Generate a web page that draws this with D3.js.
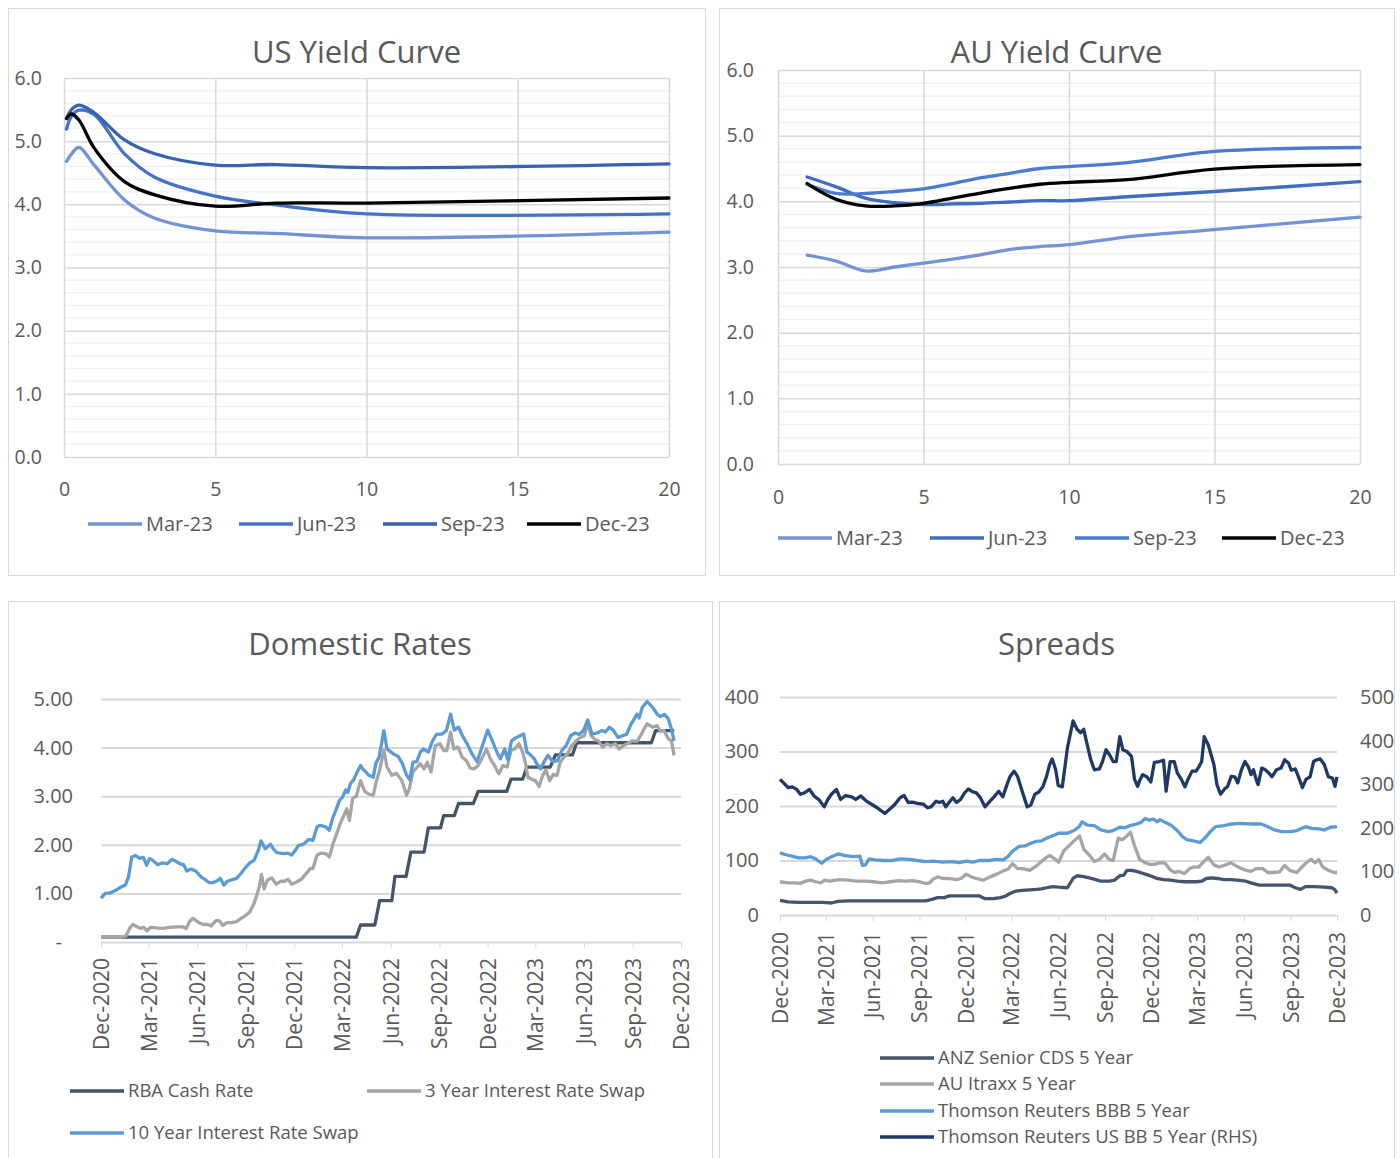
<!DOCTYPE html>
<html>
<head>
<meta charset="utf-8">
<script src="https://cdn.jsdelivr.net/npm/d3@7"></script>
<style>
  body { margin: 0; background: #fff; }
  svg { display: block; font-family: 'Open Sans', sans-serif; }
</style>
</head>
<body>
<svg id="chart" width="1400" height="1158"></svg>
<script>
// ---------- yield curves ----------
const usTenors = [0.083, 0.25, 0.5, 1, 2, 3, 5, 7, 10, 20];
const usMar23 = [4.68, 4.80, 4.90, 4.62, 4.07, 3.78, 3.58, 3.54, 3.47, 3.56];
const usJun23 = [5.19, 5.40, 5.49, 5.42, 4.80, 4.43, 4.13, 3.99, 3.85, 3.85];
const usSep23 = [5.36, 5.50, 5.57, 5.45, 5.02, 4.80, 4.62, 4.63, 4.58, 4.64];
const usDec23 = [5.36, 5.43, 5.33, 4.89, 4.36, 4.15, 3.97, 4.02, 4.02, 4.10];

const auTenors = [1, 2, 3, 4, 5, 6, 7, 8, 9, 10, 12, 15, 20];
const auMar23 = [3.18, 3.09, 2.94, 3.00, 3.06, 3.12, 3.19, 3.27, 3.31, 3.34, 3.46, 3.57, 3.76];
const auJun23 = [4.37, 4.22, 4.05, 3.98, 3.95, 3.96, 3.97, 3.99, 4.01, 4.01, 4.07, 4.15, 4.30];
const auSep23 = [4.26, 4.12, 4.12, 4.15, 4.19, 4.27, 4.36, 4.43, 4.50, 4.53, 4.59, 4.76, 4.82];
const auDec23 = [4.27, 4.03, 3.93, 3.93, 3.97, 4.05, 4.13, 4.20, 4.26, 4.29, 4.33, 4.49, 4.56];

const curveLabels = ['Mar-23', 'Jun-23', 'Sep-23', 'Dec-23'];

// ---------- domestic rates ----------
const quarterTicks = ['2020-12-01', '2021-03-01', '2021-06-01', '2021-09-01', '2021-12-01',
  '2022-03-01', '2022-06-01', '2022-09-01', '2022-12-01', '2023-03-01', '2023-06-01',
  '2023-09-01', '2023-12-01'];

const rbaCash = [
  ['2020-12-01', 0.10], ['2022-03-28', 0.10], ['2022-04-05', 0.35], ['2022-05-02', 0.35],
  ['2022-05-11', 0.85], ['2022-06-03', 0.85], ['2022-06-09', 1.35], ['2022-06-30', 1.35],
  ['2022-07-09', 1.85], ['2022-08-03', 1.85], ['2022-08-11', 2.35], ['2022-09-03', 2.35],
  ['2022-09-09', 2.60], ['2022-09-29', 2.60], ['2022-10-07', 2.85], ['2022-11-04', 2.85],
  ['2022-11-13', 3.10], ['2023-01-06', 3.10], ['2023-01-14', 3.35], ['2023-02-05', 3.35],
  ['2023-02-13', 3.60], ['2023-03-29', 3.60], ['2023-04-08', 3.85], ['2023-05-10', 3.85],
  ['2023-05-18', 4.10], ['2023-10-06', 4.10], ['2023-10-14', 4.35], ['2023-11-18', 4.35]
];

const swap3y = [
  ['2020-12-01', 0.10], ['2020-12-18', 0.10], ['2021-01-06', 0.10], ['2021-01-17', 0.12],
  ['2021-01-24', 0.28], ['2021-01-30', 0.36], ['2021-02-08', 0.31], ['2021-02-14', 0.28],
  ['2021-02-20', 0.30], ['2021-02-26', 0.23], ['2021-03-04', 0.30], ['2021-03-15', 0.29],
  ['2021-03-27', 0.28], ['2021-04-10', 0.30], ['2021-04-23', 0.31], ['2021-05-05', 0.31],
  ['2021-05-11', 0.28], ['2021-05-17', 0.42], ['2021-05-24', 0.49], ['2021-06-03', 0.40],
  ['2021-06-12', 0.36], ['2021-06-21', 0.36], ['2021-06-27', 0.33], ['2021-07-06', 0.44],
  ['2021-07-12', 0.44], ['2021-07-19', 0.34], ['2021-07-27', 0.40], ['2021-08-05', 0.40],
  ['2021-08-14', 0.42], ['2021-08-23', 0.49], ['2021-08-29', 0.53], ['2021-09-08', 0.62],
  ['2021-09-16', 0.79], ['2021-09-21', 0.96], ['2021-09-26', 1.14], ['2021-09-30', 1.39],
  ['2021-10-05', 1.09], ['2021-10-11', 1.27], ['2021-10-19', 1.32], ['2021-10-28', 1.19],
  ['2021-11-05', 1.25], ['2021-11-13', 1.25], ['2021-11-19', 1.29], ['2021-11-26', 1.19],
  ['2021-12-06', 1.24], ['2021-12-14', 1.29], ['2021-12-22', 1.39], ['2021-12-31', 1.51],
  ['2022-01-05', 1.51], ['2022-01-13', 1.79], ['2022-01-21', 1.83], ['2022-01-29', 1.82],
  ['2022-02-05', 1.75], ['2022-02-12', 2.02], ['2022-02-19', 2.23], ['2022-02-26', 2.45],
  ['2022-03-04', 2.59], ['2022-03-10', 2.74], ['2022-03-15', 2.50], ['2022-03-21', 2.95],
  ['2022-03-28', 3.00], ['2022-04-05', 3.32], ['2022-04-13', 3.10], ['2022-04-21', 3.04],
  ['2022-04-29', 3.02], ['2022-05-05', 3.32], ['2022-05-11', 3.53], ['2022-05-19', 3.95],
  ['2022-05-25', 3.60], ['2022-06-03', 3.43], ['2022-06-12', 3.47], ['2022-06-22', 3.32],
  ['2022-07-01', 3.02], ['2022-07-06', 3.15], ['2022-07-13', 3.50], ['2022-07-21', 3.60],
  ['2022-07-27', 3.67], ['2022-08-03', 3.56], ['2022-08-09', 3.70], ['2022-08-16', 3.50],
  ['2022-08-24', 4.04], ['2022-09-02', 4.08], ['2022-09-09', 3.94], ['2022-09-15', 3.94],
  ['2022-09-22', 4.32], ['2022-09-28', 3.97], ['2022-10-06', 4.01], ['2022-10-14', 3.80],
  ['2022-10-22', 3.73], ['2022-10-29', 3.58], ['2022-11-05', 3.56], ['2022-11-13', 3.63],
  ['2022-11-18', 3.73], ['2022-11-29', 3.97], ['2022-12-06', 3.77], ['2022-12-14', 3.63],
  ['2022-12-22', 3.46], ['2022-12-30', 3.63], ['2023-01-07', 3.60], ['2023-01-14', 3.94],
  ['2023-01-21', 3.97], ['2023-01-29', 4.08], ['2023-02-05', 3.91], ['2023-02-10', 3.70],
  ['2023-02-15', 3.39], ['2023-02-24', 3.34], ['2023-03-01', 3.32], ['2023-03-08', 3.20],
  ['2023-03-15', 3.43], ['2023-03-21', 3.54], ['2023-03-28', 3.32], ['2023-04-04', 3.45],
  ['2023-04-11', 3.43], ['2023-04-17', 3.70], ['2023-04-23', 3.79], ['2023-04-30', 3.86],
  ['2023-05-09', 4.04], ['2023-05-17', 4.14], ['2023-05-24', 4.20], ['2023-06-02', 4.25],
  ['2023-06-08', 4.52], ['2023-06-14', 4.25], ['2023-06-22', 4.16], ['2023-06-28', 4.14],
  ['2023-07-06', 4.01], ['2023-07-14', 4.08], ['2023-07-21', 4.04], ['2023-07-30', 4.08],
  ['2023-08-06', 3.97], ['2023-08-14', 4.04], ['2023-08-23', 4.09], ['2023-08-31', 4.14],
  ['2023-09-09', 4.13], ['2023-09-16', 4.25], ['2023-09-22', 4.38], ['2023-09-28', 4.49],
  ['2023-10-08', 4.42], ['2023-10-17', 4.45], ['2023-10-23', 4.34], ['2023-10-30', 4.35],
  ['2023-11-07', 4.18], ['2023-11-13', 4.14], ['2023-11-18', 3.84]
];

const swap10y = [
  ['2020-12-01', 0.90], ['2020-12-09', 1.00], ['2020-12-18', 1.01], ['2020-12-30', 1.07],
  ['2021-01-09', 1.14], ['2021-01-16', 1.17], ['2021-01-22', 1.34], ['2021-01-28', 1.75],
  ['2021-02-04', 1.78], ['2021-02-12', 1.72], ['2021-02-19', 1.74], ['2021-02-25', 1.58],
  ['2021-03-03', 1.72], ['2021-03-09', 1.68], ['2021-03-18', 1.59], ['2021-03-27', 1.63],
  ['2021-04-05', 1.61], ['2021-04-14', 1.70], ['2021-04-23', 1.65], ['2021-05-01', 1.60],
  ['2021-05-06', 1.59], ['2021-05-12', 1.46], ['2021-05-20', 1.50], ['2021-05-29', 1.46],
  ['2021-06-09', 1.33], ['2021-06-15', 1.29], ['2021-06-23', 1.22], ['2021-06-30', 1.22],
  ['2021-07-10', 1.27], ['2021-07-14', 1.31], ['2021-07-21', 1.17], ['2021-07-28', 1.25],
  ['2021-08-08', 1.29], ['2021-08-14', 1.31], ['2021-08-23', 1.42], ['2021-08-29', 1.51],
  ['2021-09-08', 1.63], ['2021-09-16', 1.68], ['2021-09-24', 1.89], ['2021-09-29', 2.08],
  ['2021-10-07', 1.92], ['2021-10-17', 2.01], ['2021-10-22', 1.92], ['2021-10-29', 1.84],
  ['2021-11-10', 1.82], ['2021-11-18', 1.83], ['2021-11-26', 1.79], ['2021-12-03', 1.89],
  ['2021-12-09', 1.99], ['2021-12-18', 2.01], ['2021-12-28', 2.11], ['2022-01-05', 2.09],
  ['2022-01-13', 2.37], ['2022-01-19', 2.40], ['2022-01-29', 2.37], ['2022-02-05', 2.30],
  ['2022-02-12', 2.57], ['2022-02-16', 2.67], ['2022-02-24', 2.91], ['2022-03-02', 2.98],
  ['2022-03-08', 3.13], ['2022-03-12', 3.08], ['2022-03-17', 3.26], ['2022-03-23', 3.34],
  ['2022-03-28', 3.46], ['2022-04-05', 3.63], ['2022-04-11', 3.54], ['2022-04-21', 3.43],
  ['2022-04-29', 3.39], ['2022-05-04', 3.68], ['2022-05-10', 3.80], ['2022-05-19', 4.35],
  ['2022-05-25', 3.97], ['2022-06-06', 3.87], ['2022-06-15', 3.82], ['2022-06-23', 3.67],
  ['2022-07-01', 3.43], ['2022-07-07', 3.34], ['2022-07-13', 3.70], ['2022-07-20', 3.71],
  ['2022-07-27', 3.91], ['2022-08-02', 3.97], ['2022-08-11', 3.91], ['2022-08-19', 4.14],
  ['2022-08-26', 4.27], ['2022-09-06', 4.28], ['2022-09-14', 4.35], ['2022-09-22', 4.69],
  ['2022-09-29', 4.36], ['2022-10-07', 4.42], ['2022-10-15', 4.23], ['2022-10-24', 4.06],
  ['2022-11-02', 3.86], ['2022-11-11', 3.71], ['2022-11-21', 4.04], ['2022-12-01', 4.36],
  ['2022-12-09', 4.16], ['2022-12-19', 3.89], ['2022-12-25', 3.77], ['2023-01-02', 3.97],
  ['2023-01-08', 3.75], ['2023-01-15', 4.14], ['2023-01-23', 4.20], ['2023-02-01', 4.25],
  ['2023-02-07', 4.28], ['2023-02-13', 3.91], ['2023-02-21', 3.84], ['2023-02-27', 3.77],
  ['2023-03-03', 3.68], ['2023-03-11', 3.56], ['2023-03-17', 3.70], ['2023-03-25', 3.84],
  ['2023-04-03', 3.71], ['2023-04-12', 3.73], ['2023-04-20', 3.94], ['2023-04-28', 4.04],
  ['2023-05-07', 4.25], ['2023-05-15', 4.30], ['2023-05-23', 4.27], ['2023-05-31', 4.35],
  ['2023-06-08', 4.57], ['2023-06-16', 4.28], ['2023-06-25', 4.30], ['2023-07-05', 4.35],
  ['2023-07-11', 4.32], ['2023-07-19', 4.42], ['2023-07-26', 4.36], ['2023-08-04', 4.21],
  ['2023-08-14', 4.25], ['2023-08-20', 4.27], ['2023-08-29', 4.49], ['2023-09-09', 4.69],
  ['2023-09-13', 4.61], ['2023-09-19', 4.83], ['2023-09-28', 4.95], ['2023-10-08', 4.83],
  ['2023-10-17', 4.69], ['2023-10-23', 4.64], ['2023-10-31', 4.68], ['2023-11-07', 4.59],
  ['2023-11-12', 4.42], ['2023-11-18', 4.14]
];

// ---------- spreads (bp) ----------
const anzCds = [
  ['2020-12-01', 27], ['2020-12-17', 24], ['2021-01-07', 23], ['2021-01-26', 23],
  ['2021-02-22', 23], ['2021-03-12', 22], ['2021-03-25', 25], ['2021-04-14', 26],
  ['2021-09-14', 26], ['2021-09-27', 29], ['2021-10-07', 32], ['2021-10-20', 32],
  ['2021-10-30', 35], ['2021-12-28', 35], ['2022-01-08', 30], ['2022-01-24', 30],
  ['2022-02-07', 32], ['2022-02-16', 34], ['2022-02-25', 39], ['2022-03-10', 44],
  ['2022-03-23', 45], ['2022-04-06', 46], ['2022-04-19', 47], ['2022-04-29', 48],
  ['2022-05-09', 50], ['2022-05-21', 52], ['2022-06-02', 51], ['2022-06-19', 50],
  ['2022-06-30', 67], ['2022-07-08', 72], ['2022-07-18', 71], ['2022-08-01', 68],
  ['2022-08-14', 65], ['2022-08-24', 62], ['2022-09-10', 62], ['2022-09-20', 64],
  ['2022-09-30', 72], ['2022-10-08', 73], ['2022-10-14', 82], ['2022-10-23', 82],
  ['2022-11-02', 80], ['2022-11-12', 77], ['2022-11-22', 74], ['2022-12-02', 71],
  ['2022-12-12', 67], ['2022-12-25', 65], ['2023-01-08', 64], ['2023-01-21', 62],
  ['2023-02-04', 61], ['2023-02-28', 61], ['2023-03-10', 62], ['2023-03-19', 67],
  ['2023-03-30', 68], ['2023-04-09', 67], ['2023-04-23', 65], ['2023-05-06', 65],
  ['2023-05-19', 64], ['2023-06-05', 62], ['2023-06-18', 58], ['2023-07-01', 55],
  ['2023-08-30', 55], ['2023-09-10', 50], ['2023-09-20', 47], ['2023-09-30', 52],
  ['2023-10-19', 52], ['2023-11-06', 51], ['2023-11-21', 50], ['2023-11-27', 46],
  ['2023-12-01', 40]
];

const auItraxx = [
  ['2020-12-01', 61], ['2020-12-17', 59], ['2020-12-30', 59], ['2021-01-10', 58],
  ['2021-01-20', 62], ['2021-01-30', 64], ['2021-02-09', 61], ['2021-02-19', 59],
  ['2021-02-27', 64], ['2021-03-09', 62], ['2021-03-19', 64], ['2021-03-28', 65],
  ['2021-04-14', 64], ['2021-04-30', 62], ['2021-05-17', 62], ['2021-06-03', 61],
  ['2021-06-20', 59], ['2021-07-06', 61], ['2021-07-22', 63], ['2021-08-05', 62],
  ['2021-08-18', 63], ['2021-09-01', 61], ['2021-09-13', 58], ['2021-09-21', 59],
  ['2021-09-27', 65], ['2021-10-07', 70], ['2021-10-17', 67], ['2021-10-27', 67],
  ['2021-11-13', 65], ['2021-11-22', 67], ['2021-12-02', 75], ['2021-12-12', 70],
  ['2021-12-22', 67], ['2022-01-05', 64], ['2022-01-18', 70], ['2022-01-31', 75],
  ['2022-02-13', 81], ['2022-02-22', 84], ['2022-03-03', 94], ['2022-03-13', 85],
  ['2022-03-23', 85], ['2022-04-06', 82], ['2022-04-19', 90], ['2022-04-29', 98],
  ['2022-05-09', 106], ['2022-05-16', 109], ['2022-05-25', 103], ['2022-06-02', 97],
  ['2022-06-12', 118], ['2022-06-22', 127], ['2022-07-02', 136], ['2022-07-13', 145],
  ['2022-07-21', 121], ['2022-08-01', 110], ['2022-08-11', 98], ['2022-08-21', 102],
  ['2022-08-31', 112], ['2022-09-09', 102], ['2022-09-17', 100], ['2022-09-27', 141],
  ['2022-10-05', 138], ['2022-10-14', 145], ['2022-10-21', 152], ['2022-10-29', 127],
  ['2022-11-08', 102], ['2022-11-17', 97], ['2022-11-27', 93], ['2022-12-07', 93],
  ['2022-12-18', 96], ['2022-12-28', 95], ['2023-01-08', 82], ['2023-01-16', 78],
  ['2023-01-24', 80], ['2023-02-04', 76], ['2023-02-14', 85], ['2023-02-22', 88],
  ['2023-03-04', 88], ['2023-03-13', 97], ['2023-03-23', 106], ['2023-04-03', 92],
  ['2023-04-13', 88], ['2023-04-23', 91], ['2023-05-06', 96], ['2023-05-15', 91],
  ['2023-05-25', 86], ['2023-06-05', 82], ['2023-06-15', 80], ['2023-06-25', 85],
  ['2023-07-08', 85], ['2023-07-18', 78], ['2023-07-29', 78], ['2023-08-10', 79],
  ['2023-08-20', 91], ['2023-08-30', 82], ['2023-09-13', 78], ['2023-09-23', 88],
  ['2023-10-03', 97], ['2023-10-11', 102], ['2023-10-19', 96], ['2023-10-26', 102],
  ['2023-11-03', 88], ['2023-11-14', 82], ['2023-11-25', 78], ['2023-12-01', 78]
];

const trBbb = [
  ['2020-12-01', 114], ['2020-12-11', 111], ['2020-12-24', 108], ['2021-01-07', 105],
  ['2021-01-20', 105], ['2021-01-30', 107], ['2021-02-09', 103], ['2021-02-21', 95],
  ['2021-03-02', 102], ['2021-03-12', 107], ['2021-03-25', 112], ['2021-04-08', 109],
  ['2021-04-24', 107], ['2021-05-07', 108], ['2021-05-12', 91], ['2021-05-18', 92],
  ['2021-05-25', 103], ['2021-06-06', 101], ['2021-06-23', 100], ['2021-07-09', 100],
  ['2021-07-25', 103], ['2021-08-12', 102], ['2021-08-28', 100], ['2021-09-14', 98],
  ['2021-09-30', 99], ['2021-10-17', 97], ['2021-11-03', 98], ['2021-11-19', 96],
  ['2021-12-02', 99], ['2021-12-15', 97], ['2021-12-28', 100], ['2022-01-15', 100],
  ['2022-01-31', 102], ['2022-02-13', 101], ['2022-02-22', 107], ['2022-03-03', 117],
  ['2022-03-16', 126], ['2022-03-29', 127], ['2022-04-09', 132], ['2022-04-19', 135],
  ['2022-04-29', 136], ['2022-05-09', 141], ['2022-05-20', 145], ['2022-06-02', 150],
  ['2022-06-19', 150], ['2022-07-02', 155], ['2022-07-12', 162], ['2022-07-18', 171],
  ['2022-07-28', 165], ['2022-08-11', 164], ['2022-08-24', 156], ['2022-09-07', 153],
  ['2022-09-17', 155], ['2022-09-30', 161], ['2022-10-10', 160], ['2022-10-20', 164],
  ['2022-11-02', 167], ['2022-11-11', 170], ['2022-11-19', 177], ['2022-11-27', 174],
  ['2022-12-05', 176], ['2022-12-12', 171], ['2022-12-18', 175], ['2022-12-28', 170],
  ['2023-01-08', 165], ['2023-01-21', 155], ['2023-01-31', 144], ['2023-02-10', 138],
  ['2023-02-22', 136], ['2023-03-07', 133], ['2023-03-17', 142], ['2023-03-27', 153],
  ['2023-04-06', 162], ['2023-04-23', 164], ['2023-05-09', 167], ['2023-05-25', 168],
  ['2023-06-15', 167], ['2023-07-05', 167], ['2023-07-18', 162], ['2023-07-31', 156],
  ['2023-08-14', 153], ['2023-08-31', 153], ['2023-09-13', 155], ['2023-09-30', 162],
  ['2023-10-12', 159], ['2023-10-26', 158], ['2023-11-06', 156], ['2023-11-18', 161],
  ['2023-12-01', 162]
];

// right hand scale
const trUsBb = [
  ['2020-12-01', 311], ['2020-12-08', 303], ['2020-12-17', 292], ['2020-12-25', 294],
  ['2021-01-03', 288], ['2021-01-10', 277], ['2021-01-18', 280], ['2021-01-28', 288],
  ['2021-02-06', 273], ['2021-02-16', 264], ['2021-02-26', 248], ['2021-03-05', 265],
  ['2021-03-12', 277], ['2021-03-22', 288], ['2021-03-30', 265], ['2021-04-09', 274],
  ['2021-04-21', 271], ['2021-04-29', 265], ['2021-05-09', 273], ['2021-05-20', 261],
  ['2021-05-30', 254], ['2021-06-10', 246], ['2021-06-25', 233], ['2021-07-06', 244],
  ['2021-07-15', 254], ['2021-07-25', 269], ['2021-08-02', 274], ['2021-08-10', 258],
  ['2021-08-18', 259], ['2021-08-28', 256], ['2021-09-09', 254], ['2021-09-17', 246],
  ['2021-09-24', 248], ['2021-10-04', 261], ['2021-10-10', 258], ['2021-10-17', 261],
  ['2021-10-23', 248], ['2021-10-30', 259], ['2021-11-06', 269], ['2021-11-13', 258],
  ['2021-11-21', 265], ['2021-11-29', 280], ['2021-12-06', 289], ['2021-12-14', 283],
  ['2021-12-22', 280], ['2021-12-30', 269], ['2022-01-08', 248], ['2022-01-18', 261],
  ['2022-01-28', 274], ['2022-02-04', 284], ['2022-02-12', 271], ['2022-02-19', 295],
  ['2022-02-26', 317], ['2022-03-06', 330], ['2022-03-13', 318], ['2022-03-21', 288],
  ['2022-04-01', 248], ['2022-04-08', 252], ['2022-04-16', 277], ['2022-04-24', 282],
  ['2022-05-02', 295], ['2022-05-09', 318], ['2022-05-15', 345], ['2022-05-20', 358],
  ['2022-05-27', 333], ['2022-06-01', 297], ['2022-06-09', 294], ['2022-06-19', 383],
  ['2022-06-30', 445], ['2022-07-08', 426], ['2022-07-15', 418], ['2022-07-21', 426],
  ['2022-07-28', 390], ['2022-08-04', 356], ['2022-08-11', 333], ['2022-08-21', 335],
  ['2022-08-27', 352], ['2022-09-03', 379], ['2022-09-10', 367], ['2022-09-17', 352],
  ['2022-09-23', 352], ['2022-09-30', 409], ['2022-10-06', 379], ['2022-10-14', 375],
  ['2022-10-23', 364], ['2022-10-29', 311], ['2022-11-04', 295], ['2022-11-09', 311],
  ['2022-11-14', 322], ['2022-11-22', 317], ['2022-11-30', 305], ['2022-12-07', 350],
  ['2022-12-17', 352], ['2022-12-25', 355], ['2022-12-30', 284], ['2023-01-07', 352],
  ['2023-01-15', 352], ['2023-01-21', 326], ['2023-01-29', 311], ['2023-02-05', 294],
  ['2023-02-11', 311], ['2023-02-19', 330], ['2023-02-27', 330], ['2023-03-05', 341],
  ['2023-03-10', 352], ['2023-03-15', 409], ['2023-03-23', 390], ['2023-04-03', 345],
  ['2023-04-09', 299], ['2023-04-16', 277], ['2023-04-24', 289], ['2023-04-30', 295],
  ['2023-05-07', 318], ['2023-05-14', 317], ['2023-05-20', 303], ['2023-05-27', 333],
  ['2023-06-03', 352], ['2023-06-10', 339], ['2023-06-15', 322], ['2023-06-20', 333],
  ['2023-06-25', 311], ['2023-06-29', 299], ['2023-07-06', 337], ['2023-07-13', 333],
  ['2023-07-19', 327], ['2023-07-26', 317], ['2023-08-04', 333], ['2023-08-13', 337],
  ['2023-08-20', 356], ['2023-08-28', 348], ['2023-09-02', 332], ['2023-09-10', 335],
  ['2023-09-16', 318], ['2023-09-24', 292], ['2023-10-01', 311], ['2023-10-09', 317],
  ['2023-10-16', 352], ['2023-10-22', 356], ['2023-10-29', 358], ['2023-11-06', 345],
  ['2023-11-14', 317], ['2023-11-22', 314], ['2023-11-27', 295], ['2023-12-01', 317]
];

// ---------- drawing ----------
const svg = d3.select('#chart');
const parseDate = d3.timeParse('%Y-%m-%d');
const TEXT = '#595959', GRID = '#d9d9d9', MINOR = '#f2f2f2';
const FONT = "'Open Sans', sans-serif";

function panel(x0, y0, x1, y1, title, titleY) {
  svg.append('rect')
    .attr('x', x0 + 0.5).attr('y', y0 + 0.5)
    .attr('width', x1 - x0).attr('height', y1 - y0)
    .attr('fill', 'none').attr('stroke', GRID);
  svg.append('text')
    .attr('x', (x0 + x1) / 2).attr('y', titleY)
    .attr('text-anchor', 'middle')
    .attr('font-size', 31).attr('fill', TEXT)
    .text(title);
}

// tidy a d3 axis group to match the office look
function styleAxis(g, size, keepDomain) {
  g.attr('font-family', FONT).attr('font-size', size);
  if (!keepDomain) g.select('.domain').remove();
  else g.select('.domain').attr('stroke', GRID);
  g.selectAll('.tick line').attr('stroke', GRID);
  g.selectAll('.tick text').attr('fill', TEXT);
  return g;
}

function legend(items, spots, size) {
  items.forEach((s, i) => {
    const [lx, ly] = spots[i];
    svg.append('line')
      .attr('x1', lx).attr('x2', lx + 54).attr('y1', ly).attr('y2', ly)
      .attr('stroke', s.color).attr('stroke-width', 3.5);
    svg.append('text')
      .attr('x', lx + 58).attr('y', ly).attr('dy', '0.35em')
      .attr('font-size', size).attr('fill', TEXT)
      .text(s.label);
  });
}

function yieldCurve(box, tenors, series, legendSpots) {
  const x = d3.scaleLinear().domain([0, 20]).range([box.left, box.right]);
  const y = d3.scaleLinear().domain([0, 6]).range([box.bottom, box.top]);
  const w = box.right - box.left, h = box.bottom - box.top;

  // minor gridlines each 0.2
  svg.append('g')
    .selectAll('line')
    .data(d3.range(31).filter(i => i % 5 !== 0).map(i => i / 5))
    .join('line')
      .attr('x1', box.left).attr('x2', box.right)
      .attr('y1', d => y(d)).attr('y2', d => y(d))
      .attr('stroke', MINOR).attr('stroke-width', 1.5);

  svg.append('g')
    .attr('transform', `translate(${box.left},0)`)
    .call(d3.axisLeft(y).ticks(6).tickSize(-w).tickPadding(box.yPad).tickFormat(d3.format('.1f')))
    .call(g => styleAxis(g, 19.5))
    .call(g => g.selectAll('.tick line').attr('stroke-width', 1.5));

  svg.append('g')
    .attr('transform', `translate(0,${box.bottom})`)
    .call(d3.axisBottom(x).tickValues([0, 5, 10, 15, 20]).tickSize(-h).tickPadding(box.xPad))
    .call(g => styleAxis(g, 19.5))
    .call(g => g.selectAll('.tick line').attr('stroke-width', 1.5));

  const line = d3.line()
    .x(d => x(d[0]))
    .y(d => y(d[1]))
    .curve(d3.curveCatmullRom.alpha(0.5));

  svg.append('g')
    .selectAll('path')
    .data(series)
    .join('path')
      .attr('d', s => line(d3.zip(tenors, s.values)))
      .attr('fill', 'none')
      .attr('stroke', s => s.color)
      .attr('stroke-width', 3.3)
      .attr('stroke-linejoin', 'round')
      .attr('stroke-linecap', 'round');

  legend(series, legendSpots, 20);
}

function dateAxis(x, y0, labelPad) {
  const g = svg.append('g')
    .attr('transform', `translate(0,${y0})`)
    .call(d3.axisBottom(x)
      .tickValues(quarterTicks.map(parseDate))
      .tickSize(6).tickSizeOuter(0)
      .tickFormat(d3.timeFormat('%b-%Y')))
    .call(g => styleAxis(g, 21, true));
  g.selectAll('.tick text')
    .attr('transform', 'rotate(-90)')
    .attr('text-anchor', 'end')
    .attr('x', -labelPad).attr('y', 0)
    .attr('dy', '0.35em');
  return g;
}

function drawSeries(x, y, series) {
  const line = d3.line()
    .x(d => x(parseDate(d[0])))
    .y(d => y(d[1]));
  svg.append('g')
    .selectAll('path')
    .data(series)
    .join('path')
      .attr('d', s => line(s.values))
      .attr('fill', 'none')
      .attr('stroke', s => s.color)
      .attr('stroke-width', 3.3)
      .attr('stroke-linejoin', 'round');
}

// --- US yield curve
panel(8, 8, 705, 575, 'US Yield Curve', 63);
yieldCurve(
  {left: 64, right: 669, top: 78, bottom: 457, yPad: 22, xPad: 25},
  usTenors,
  [
    {label: curveLabels[0], color: '#7393d3', values: usMar23},
    {label: curveLabels[1], color: '#4472c4', values: usJun23},
    {label: curveLabels[2], color: '#3a63ad', values: usSep23},
    {label: curveLabels[3], color: '#000000', values: usDec23}
  ],
  [[88, 524], [239, 524], [383, 524], [527, 524]]
);

// --- AU yield curve
panel(719, 8, 1394, 575, 'AU Yield Curve', 63);
yieldCurve(
  {left: 778, right: 1360, top: 70, bottom: 464, yPad: 24, xPad: 26},
  auTenors,
  [
    {label: curveLabels[0], color: '#7393d3', values: auMar23},
    {label: curveLabels[1], color: '#3f6dc0', values: auJun23},
    {label: curveLabels[2], color: '#4a7bd0', values: auSep23},
    {label: curveLabels[3], color: '#000000', values: auDec23}
  ],
  [[778, 538], [930, 538], [1075, 538], [1222, 538]]
);

// --- Domestic rates
panel(8, 601, 712, 1170, 'Domestic Rates', 655);
{
  const x = d3.scaleTime().domain([parseDate('2020-12-01'), parseDate('2023-12-01')]).range([101, 681]);
  const y = d3.scaleLinear().domain([0, 5]).range([942, 699]);

  svg.append('g')
    .attr('transform', 'translate(101,0)')
    .call(d3.axisLeft(y).ticks(5).tickSize(-580).tickPadding(28)
      .tickFormat(d => d === 0 ? '-' : d3.format('.2f')(d)))
    .call(g => styleAxis(g, 20))
    .call(g => g.selectAll('.tick line').attr('stroke-width', 2))
    .call(g => g.selectAll('.tick').filter(d => d === 0).select('text').attr('dx', -11));

  dateAxis(x, 942, 16);

  const series = [
    {label: 'RBA Cash Rate', color: '#44546a', values: rbaCash},
    {label: '3 Year Interest Rate Swap', color: '#a5a5a5', values: swap3y},
    {label: '10 Year Interest Rate Swap', color: '#5b9bd5', values: swap10y}
  ];
  drawSeries(x, y, series);
  legend(series, [[70, 1091], [367, 1091], [70, 1133]], 18.5);
}

// --- Spreads
panel(719, 601, 1394, 1170, 'Spreads', 655);
{
  const x = d3.scaleTime().domain([parseDate('2020-12-01'), parseDate('2023-12-01')]).range([780, 1337]);
  const yL = d3.scaleLinear().domain([0, 400]).range([915, 697]);
  const yR = d3.scaleLinear().domain([0, 500]).range([915, 697]);

  svg.append('g')
    .attr('transform', 'translate(780,0)')
    .call(d3.axisLeft(yL).ticks(4).tickSize(-557).tickPadding(21))
    .call(g => styleAxis(g, 20))
    .call(g => g.selectAll('.tick line').attr('stroke-width', 2));

  svg.append('g')
    .attr('transform', 'translate(1337,0)')
    .call(d3.axisRight(yR).ticks(5).tickSize(0).tickPadding(23))
    .call(g => styleAxis(g, 20));

  dateAxis(x, 915, 17);

  const left = [
    {label: 'ANZ Senior CDS 5 Year', color: '#44546a', values: anzCds},
    {label: 'AU Itraxx 5 Year', color: '#a5a5a5', values: auItraxx},
    {label: 'Thomson Reuters BBB 5 Year', color: '#5b9bd5', values: trBbb}
  ];
  const right = [
    {label: 'Thomson Reuters US BB 5 Year (RHS)', color: '#1f3864', values: trUsBb}
  ];
  drawSeries(x, yL, left);
  drawSeries(x, yR, right);
  legend(left.concat(right), [[880, 1058], [880, 1084], [880, 1111], [880, 1137]], 18.5);
}
</script>
</body>
</html>
